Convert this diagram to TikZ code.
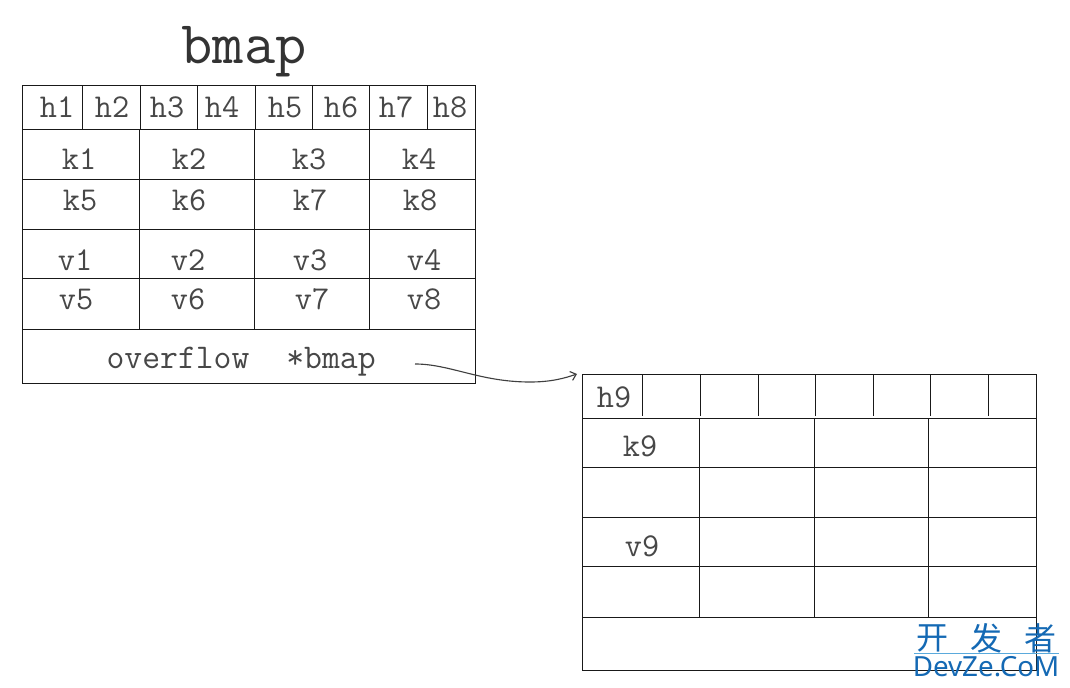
\documentclass[tikz,border=0pt]{standalone}
\usepackage{fontspec}
\setmainfont{Liberation Sans}
\newfontfamily\cjkwm{Noto Sans CJK SC}
\newfontfamily\wmlat{Noto Sans}
\usetikzlibrary{arrows.meta}
\definecolor{wmblue}{RGB}{20,105,180}
\definecolor{wmline}{RGB}{90,170,220}
\tikzset{
  gridline/.style={draw=black!90,line width=0.75pt},
  lbl/.style={inner sep=0pt,text height=15pt,text depth=0pt,font=\ttfamily\fontsize{25}{27}\selectfont,text=black!72},
  lblw/.style={lbl,font=\ttfamily\fontsize{26}{28}\selectfont},
  ttl/.style={inner sep=0pt,font=\ttfamily\fontsize{45.5}{48}\selectfont,text=black!80},
  wmc/.style={inner sep=0pt,text=wmblue,font=\cjkwm\fontsize{24}{26}\selectfont},
  wml/.style={inner sep=0pt,text=wmblue,font=\wmlat\fontsize{20.8}{22}\selectfont},
  link/.style={draw=black!75,line width=0.85pt,-{Straight Barb[length=4pt,width=7pt]}}
}
\begin{document}
\begin{tikzpicture}[x=0.75pt,y=-0.75pt]
\useasboundingbox (0,0) rectangle (1070,688);
% first bucket
\draw[gridline] (22.5,86) rectangle (475,383);
\foreach \y in {130,179,229,278,329}{\draw[gridline] (22.5,\y) -- (475,\y);}
\foreach \x in {82.5,140.5,197.5,255.5,312.5,369.5,427}{\draw[gridline] (\x,86) -- (\x,130);}
\foreach \x in {139.5,254.5,369.5}{\draw[gridline] (\x,130) -- (\x,329);}
% second bucket
\draw[gridline] (582.5,374) rectangle (1036,670);
\foreach \y in {418,467,517,566,617}{\draw[gridline] (582.5,\y) -- (1036,\y);}
\foreach \x in {642.5,700.5,758.5,815.5,873.5,930.5,988.5}{\draw[gridline] (\x,374) -- (\x,416);}
\foreach \x in {699.5,814.5,928.5}{\draw[gridline] (\x,418) -- (\x,617);}
% texts
\node[ttl] (title) at (244,52) {bmap};
\foreach \t/\x in {h1/57,h2/112,h3/167,h4/222,h5/285,h6/341,h7/396,h8/450}{\node[lbl] (\t) at (\x,108) {\t};}
\foreach \t/\x/\y in {k1/79/160,k2/189/160,k3/309/160,k4/419/160,k5/80/200,k6/189/200,k7/310/200,k8/420/200,
  v1/75/260,v2/188/260,v3/310/260,v4/424/260,v5/76/299,v6/188/299,v7/312/299,v8/424/299}{\node[lbl] (\t) at (\x,\y) {\t};}
\node[lblw] (ovf) at (178,358) {overflow};
\node[lblw] (bm) at (331,358) {*bmap};
\node[lbl] (h9) at (614,397) {h9};
\node[lbl] (k9) at (640,446) {k9};
\node[lbl] (v9) at (642,546) {v9};
% connector
\coordinate (from) at (415,364);
\coordinate (to) at (577,374);
\draw[link] (from) .. controls (450,364) and (480,382) .. (530,382) .. controls (552,382) and (565,378) .. (to);
% watermark
\node[wmc] (w1) at (932,638) {开};
\node[wmc] (w2) at (986,638) {发};
\node[wmc] (w3) at (1040,638) {者};
\draw[draw=wmline,line width=0.4pt] (914,653) -- (1059,653);
\node[wml] (w4) at (986,667) {DevZe.CoM};
\end{tikzpicture}
\end{document}
